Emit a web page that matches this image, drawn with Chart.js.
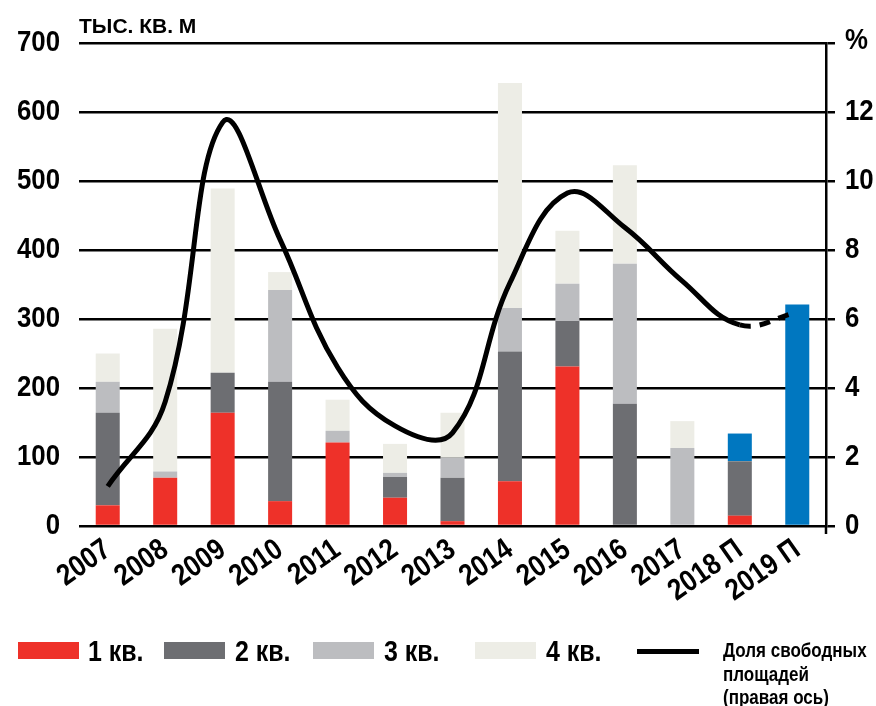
<!DOCTYPE html>
<html><head><meta charset="utf-8">
<script src="https://cdn.jsdelivr.net/npm/chart.js@4.4.1/dist/chart.umd.min.js"></script>
<style>
html,body{margin:0;padding:0;background:#fff;}
#wrap{position:relative;width:876px;height:706px;overflow:hidden;background:#fff;}
canvas{position:absolute;left:0;top:0;}
.t{position:absolute;font-family:'Liberation Sans Narrow','Arial Narrow','Liberation Sans',Arial,sans-serif;font-weight:bold;color:#000;white-space:nowrap;}
.n{transform:scaleX(0.86);transform-origin:0 0;}
.sw{position:absolute;}
</style></head><body>
<div id="wrap">
<canvas id="c" width="876" height="706"></canvas>
<div class="t" style="left:79px;top:15px;font-size:21px;line-height:21px">ТЫС. КВ. М</div>
<div class="t n" style="left:845px;top:24px;font-size:30px;line-height:30px">%</div>

<div class="sw" style="left:18px;top:642px;width:61px;height:17px;background:#EE3129"></div>
<div class="t n" style="left:88px;top:637px;font-size:29px;line-height:29px">1 кв.</div>
<div class="sw" style="left:164px;top:642px;width:61px;height:17px;background:#6D6E72"></div>
<div class="t n" style="left:235px;top:637px;font-size:29px;line-height:29px">2 кв.</div>
<div class="sw" style="left:313px;top:642px;width:61px;height:17px;background:#BCBDC0"></div>
<div class="t n" style="left:384px;top:637px;font-size:29px;line-height:29px">3 кв.</div>
<div class="sw" style="left:475px;top:642px;width:61px;height:17px;background:#EDEDE6"></div>
<div class="t n" style="left:546px;top:637px;font-size:29px;line-height:29px">4 кв.</div>
<div class="sw" style="left:637px;top:649px;width:62px;height:5px;background:#000"></div>
<div class="t" style="left:723px;top:638px;font-size:20.5px;line-height:23.5px;transform:scaleX(0.83);transform-origin:0 0">Доля свободных<br>площадей<br>(правая ось)</div>
</div>
<script>
const FONT = "'Liberation Sans Narrow','Arial Narrow','Liberation Sans',Arial,sans-serif";
const SX = 0.86;

const categories = ['2007','2008','2009','2010','2011','2012','2013','2014','2015','2016','2017','2018 П','2019 П'];
const q1 = [30, 70, 164, 36, 121, 41, 7, 65, 231, 0, 0, 15, 0];
const q2 = [134, 0, 58, 173, 0, 30, 63, 188, 66, 177, 0, 79, 0];
const q3 = [45, 9, 0, 133, 17, 6, 29, 63, 54, 203, 113, 0, 0];
const q4 = [41, 207, 267, 26, 45, 42, 65, 326, 77, 143, 39, 0, 0];
const forecast = [0, 0, 0, 0, 0, 0, 0, 0, 0, 0, 0, 40, 321];
const vacancy = [1.15, 3.6, 11.7, 8.3, 4.6, 2.9, 2.7, 7.05, 9.65, 8.65, 7.1, 5.83, 6.2];
const leftTicks = {min: 0, max: 700, step: 100};
const rightTicks = {min: 0, max: 14, step: 2};

const axisExtend = {
  id: 'axisExtend',
  afterDraw(chart) {
    const a = chart.chartArea, c = chart.ctx;
    c.save();
    c.strokeStyle = '#000'; c.lineWidth = 2.5;
    c.beginPath(); c.moveTo(a.right, a.bottom); c.lineTo(a.right, a.bottom + 8); c.stroke();
    c.restore();
  }
};

function draw() {
  const canvas = document.getElementById('c');
  const g = canvas.getContext('2d');
  const origFill = g.fillText.bind(g);
  g.fillText = function (t, x, y, mw) {
    this.save(); this.translate(x, y); this.scale(SX, 1);
    if (mw === undefined || mw === null) origFill(t, 0, 0); else origFill(t, 0, 0, mw / SX);
    this.restore();
  };
  new Chart(canvas, {
    type: 'bar',
    data: {
      labels: categories,
      datasets: [
        {type: 'line', label: 'Доля свободных площадей', data: vacancy, yAxisID: 'y1',
         borderColor: '#000', borderWidth: 5, pointRadius: 0, tension: 0.4, fill: false,
         order: 0, borderCapStyle: 'butt',
         segment: {borderDash: c => c.p1DataIndex === 12 ? [11, 9] : undefined}},
        {label: '1 кв.', data: q1, backgroundColor: '#EE3129', yAxisID: 'y', order: 1},
        {label: '2 кв.', data: q2, backgroundColor: '#6D6E72', yAxisID: 'y', order: 1},
        {label: '3 кв.', data: q3, backgroundColor: '#BCBDC0', yAxisID: 'y', order: 1},
        {label: '4 кв.', data: q4, backgroundColor: '#EDEDE6', yAxisID: 'y', order: 1},
        {label: 'прогноз', data: forecast, backgroundColor: '#0077C0', yAxisID: 'y', order: 1}
      ]
    },
    options: {
      responsive: false, animation: false, devicePixelRatio: 1,
      layout: {padding: {top: 43, left: 0, right: 0, bottom: 0}},
      plugins: {legend: {display: false}, tooltip: {enabled: false}},
      datasets: {bar: {barPercentage: 0.418, categoryPercentage: 1, borderWidth: 0}},
      scales: {
        x: {stacked: true, grid: {display: false}, border: {display: false},
            ticks: {autoSkip: false, maxRotation: 35, minRotation: 35, color: '#000',
                    font: {family: FONT, size: 30, weight: 'bold'}, padding: -2},
            afterFit(s) { s.height = 180; }},
        y: {stacked: true, position: 'left', min: leftTicks.min, max: leftTicks.max, z: 1,
            ticks: {stepSize: leftTicks.step, color: '#000', font: {family: FONT, size: 30, weight: 'bold'}, padding: 19},
            grid: {color: '#000', lineWidth: 2.5, drawTicks: false},
            border: {display: false},
            afterFit(s) { s.width = 79; }},
        y1: {position: 'right', min: rightTicks.min, max: rightTicks.max, z: 1,
             ticks: {stepSize: rightTicks.step, color: '#000', font: {family: FONT, size: 30, weight: 'bold'}, padding: 10,
                     callback: v => v === rightTicks.max ? '' : v},
             grid: {drawOnChartArea: false, drawTicks: true, tickLength: 9, color: '#000', lineWidth: 2.5},
             border: {display: true, color: '#000', width: 2.5},
             afterFit(s) { s.width = 50; }}
      }
    },
    plugins: [axisExtend]
  });
}
if (document.fonts && document.fonts.load) {
  Promise.all([
    document.fonts.load("bold 30px 'Liberation Sans Narrow'"),
    document.fonts.load("bold 30px 'Liberation Sans'")
  ]).then(draw, draw);
} else { draw(); }
</script>
</body></html>
